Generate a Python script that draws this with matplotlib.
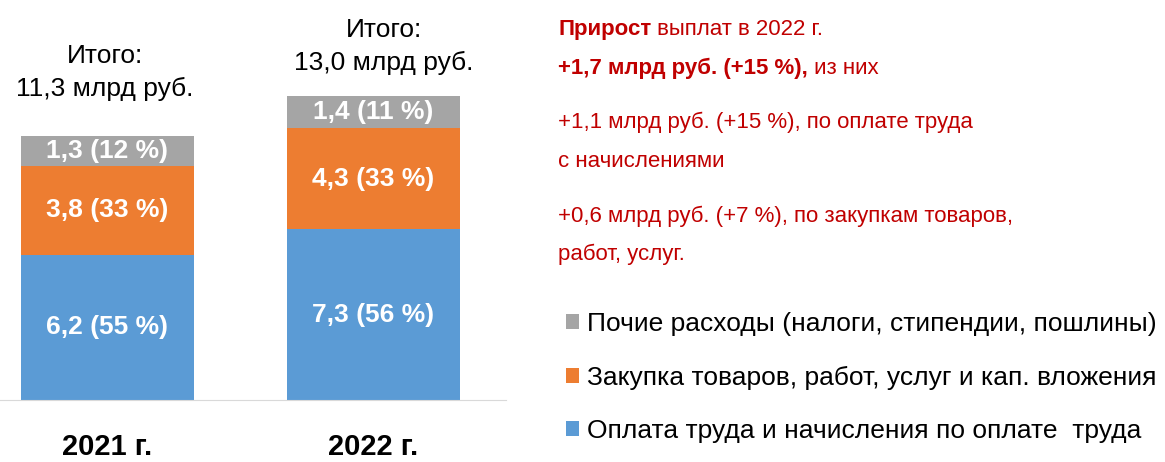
import matplotlib
matplotlib.use("Agg")
import matplotlib.pyplot as plt

plt.rcParams["font.family"] = ["Liberation Sans", "DejaVu Sans"]

years = ["2021 г.", "2022 г."]
series = [
    "Оплата труда и начисления по оплате  труда",
    "Закупка товаров, работ, услуг и кап. вложения",
    "Почие расходы (налоги, стипендии, пошлины)",
]
values = [
    [6.2, 7.3],
    [3.8, 4.3],
    [1.3, 1.4],
]
shares = [
    [55, 56],
    [33, 33],
    [12, 11],
]
totals = [11.3, 13.0]
colors = ["#5B9BD5", "#ED7D31", "#A5A5A5"]
red = "#C00000"

W, H = 1165, 462
fig = plt.figure(figsize=(W / 100, H / 100), dpi=100)

# axes in pixel layout: left 0, right 506, baseline at y=400
ax = fig.add_axes([0, 1 - 400 / H, 506 / W, 400 / H])
x = [0, 1]
bottoms = [0, 0]
for vals, shr, col, name in zip(values, shares, colors, series):
    bars = ax.bar(x, vals, width=0.65, bottom=bottoms, color=col, label=name)
    labels = [f"{v:.1f} ({s} %)".replace(".", ",") for v, s in zip(vals, shr)]
    ax.bar_label(bars, labels=labels, label_type="center", color="white",
                 fontsize=19, fontweight="bold")
    bottoms = [b + v for b, v in zip(bottoms, vals)]

ax.set_xlim(-0.404, 1.498)
ax.set_ylim(0, 17.09)
ax.set_yticks([])
ax.set_xticks(x)
ax.set_xticklabels(years, fontsize=21, fontweight="bold")
ax.tick_params(axis="x", length=0, pad=24)
for s in ["top", "right", "left"]:
    ax.spines[s].set_visible(False)
ax.spines["bottom"].set_color("#D9D9D9")

# totals above bars
offsets = [1.47, 0.88]
shifts = [-0.01, 0.04]
for xi, t, top, off, sh in zip(x, totals, bottoms, offsets, shifts):
    ax.text(xi + sh, top + off,
            "Итого:\n" + f"{t:.1f}".replace(".", ",") + " млрд руб.",
            ha="center", va="bottom", fontsize=19, linespacing=1.5)

# right-hand text block
fig.canvas.draw()
renderer = fig.canvas.get_renderer()


def mixed(px, py, parts):
    cx = px
    for txt, bold in parts:
        t = fig.text(cx / W, 1 - py / H, txt, color=red, fontsize=16,
                     fontweight="bold" if bold else "normal", va="baseline")
        bb = t.get_window_extent(renderer)
        cx = bb.x1


mixed(558, 35, [("Прирост", True), (" выплат в 2022 г.", False)])
mixed(558, 74, [("+1,7 млрд руб. (+15 %),", True), (" из них", False)])
mixed(558, 128, [("+1,1 млрд руб. (+15 %), по оплате труда", False)])
mixed(558, 167, [("с начислениями", False)])
mixed(558, 222, [("+0,6 млрд руб. (+7 %), по закупкам товаров,", False)])
mixed(558, 260, [("работ, услуг.", False)])

handles, labs = ax.get_legend_handles_labels()
fig.legend(handles[::-1], labs[::-1], loc="upper left",
           bbox_to_anchor=(566 / W, 1 - 312 / H), frameon=False, fontsize=19,
           handlelength=0.49, handleheight=0.49, handletextpad=0.3,
           labelspacing=1.12, borderpad=0, borderaxespad=0)

fig.savefig("out.png", dpi=100)
